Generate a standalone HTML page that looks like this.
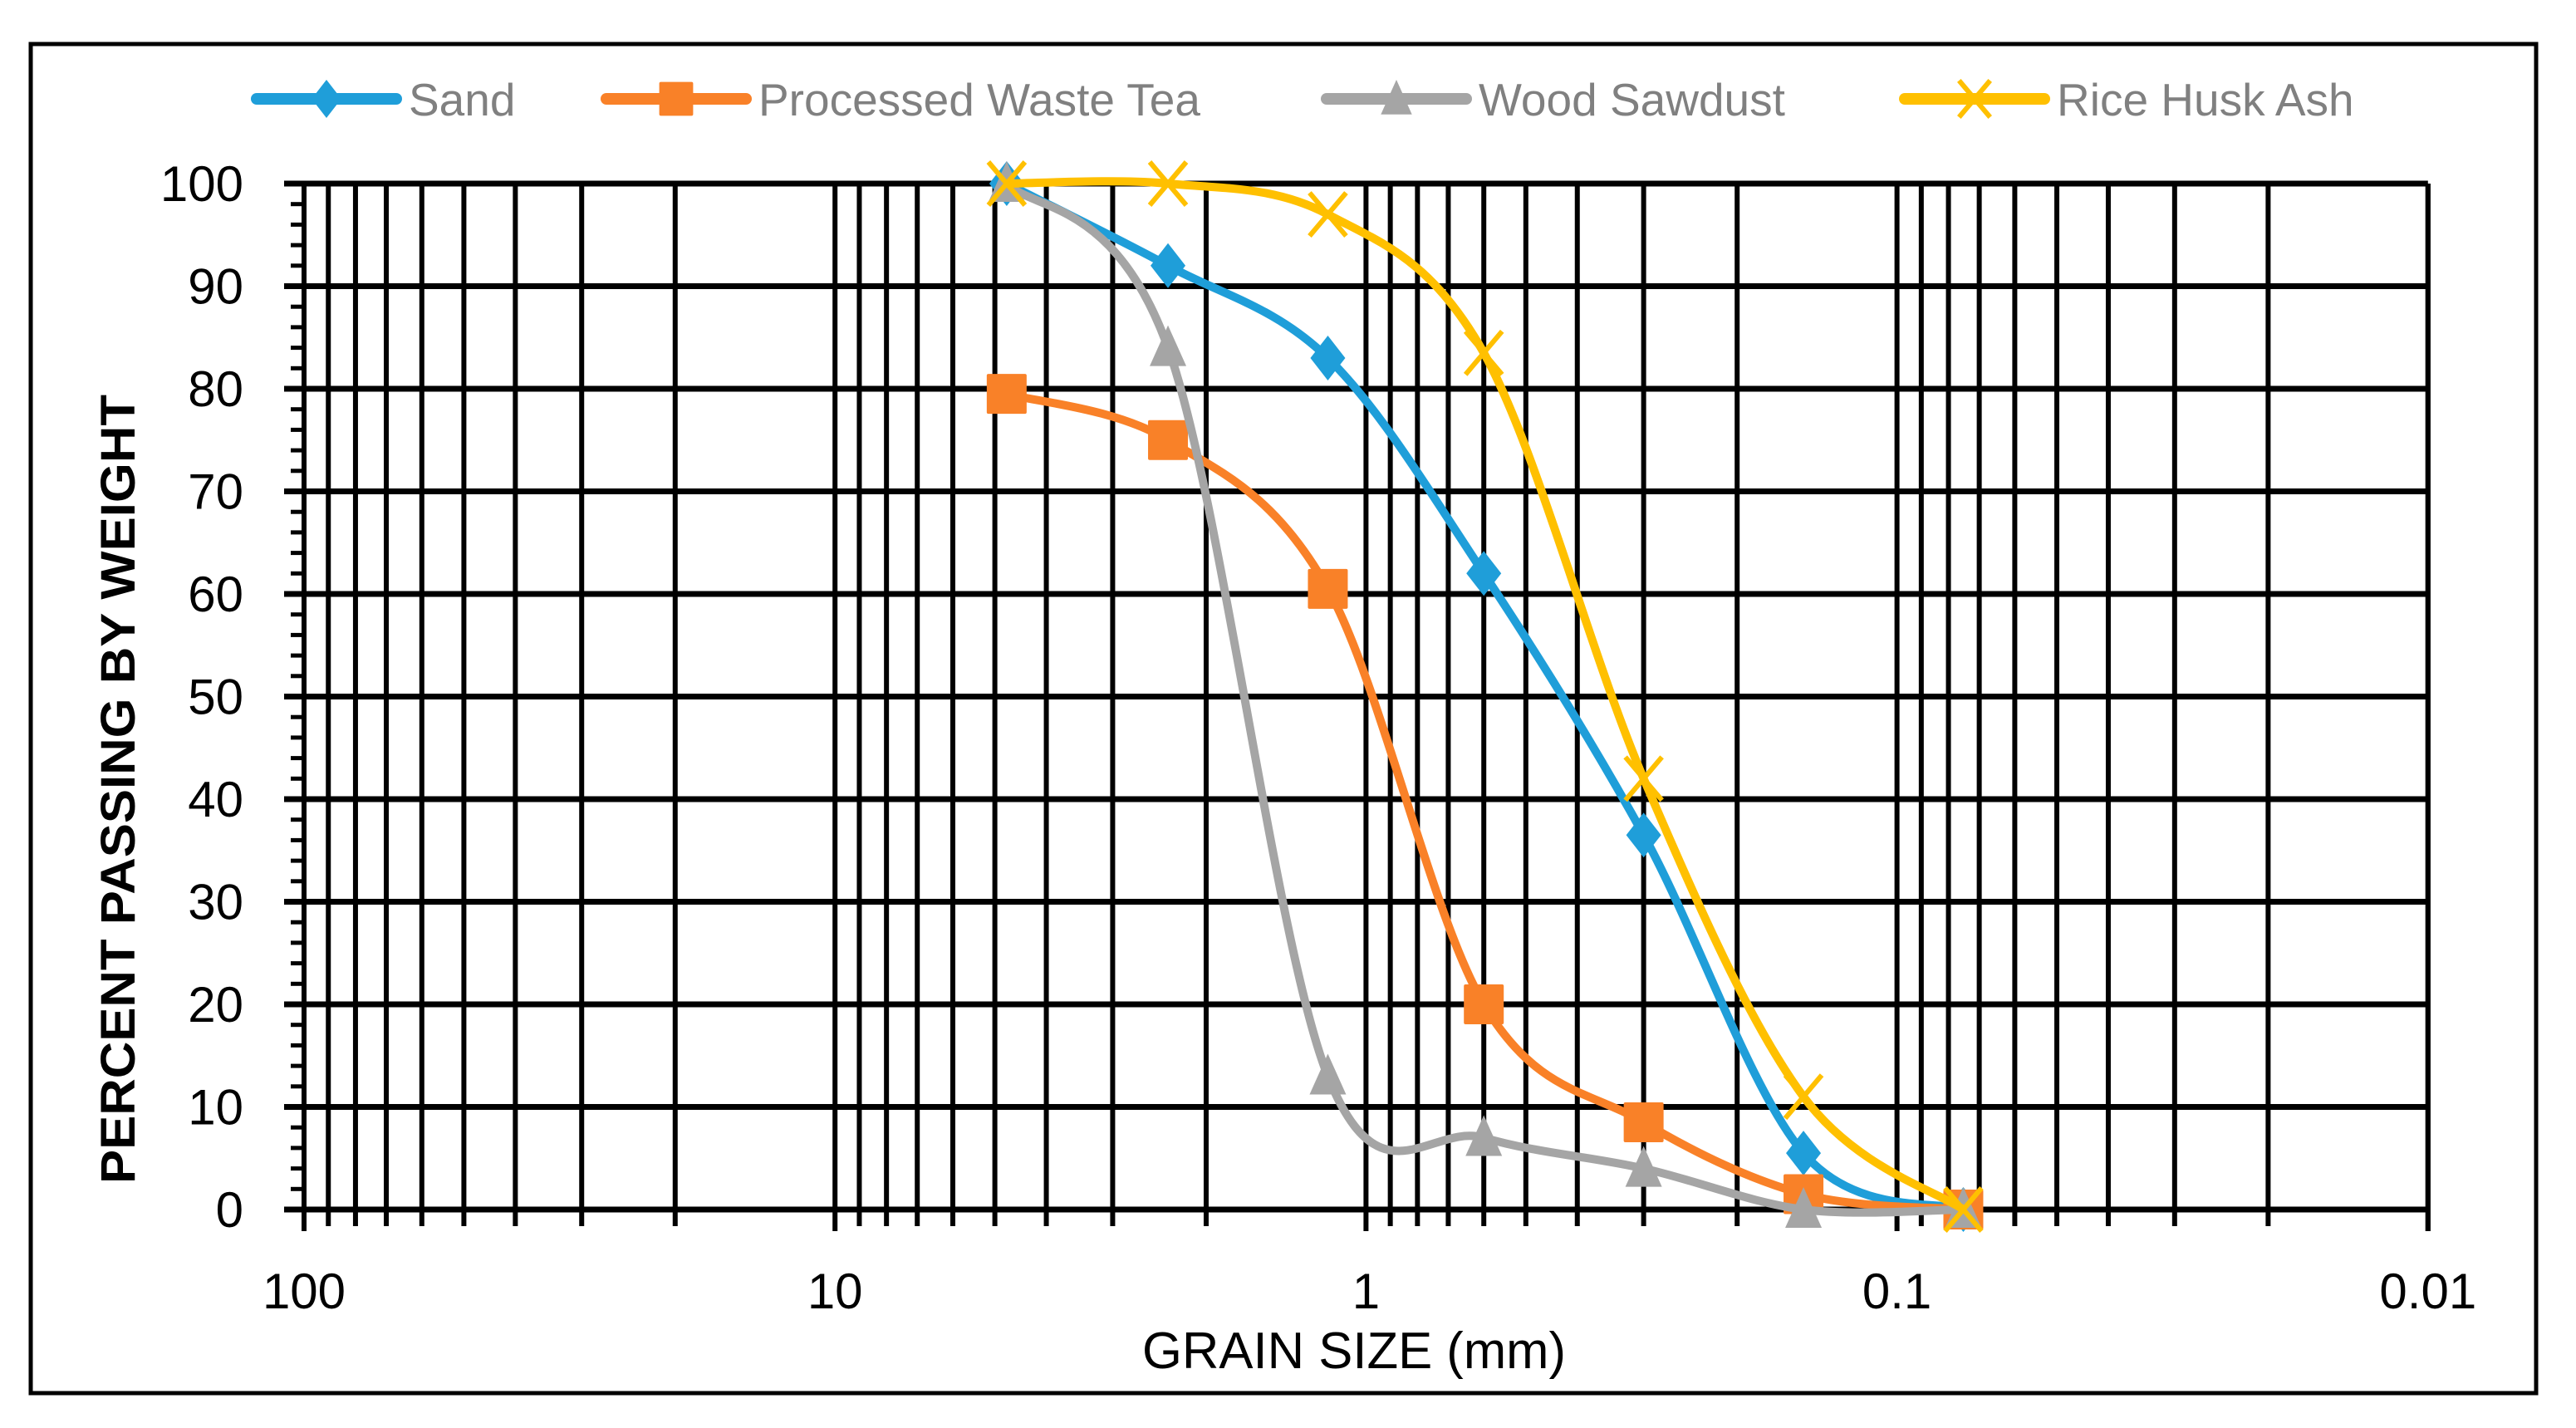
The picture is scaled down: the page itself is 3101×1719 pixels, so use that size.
<!DOCTYPE html>
<html><head><meta charset="utf-8"><style>
html,body{margin:0;padding:0;background:#fff}
svg{display:block}
text{font-family:"Liberation Sans",sans-serif}
</style></head><body>
<svg id="chart" width="3101" height="1719" viewBox="0 0 3101 1719" xmlns="http://www.w3.org/2000/svg">
<rect x="37" y="53" width="3016" height="1624" fill="#fff" stroke="#000" stroke-width="5"/>
<g id="grid"></g>
<g id="series"></g>
<g id="axes"></g>
<text transform="translate(162,950) rotate(-90)" text-anchor="middle" font-size="58" font-weight="bold" textLength="950" lengthAdjust="spacingAndGlyphs">PERCENT PASSING BY WEIGHT</text>
<text x="1630" y="1647" text-anchor="middle" font-size="62" textLength="510" lengthAdjust="spacingAndGlyphs">GRAIN SIZE (mm)</text>
<g id="legend"></g>
</svg>
<script>
const sieveSizes = [4.75, 2.36, 1.18, 0.6, 0.3, 0.15, 0.075];
const sandValues = [100, 92, 83, 62, 36.5, 5.5, 0];
const teaValues = [79.5, 75, 60.5, 20, 8.5, 1.5, 0];
const sawdustValues = [100, 84, 13, 7, 4, 0, 0];
const ashValues = [100, 100, 97, 83.5, 42, 11, 0];
const seriesNames = ["Sand", "Processed Waste Tea", "Wood Sawdust", "Rice Husk Ash"];
const yTicks = [0, 10, 20, 30, 40, 50, 60, 70, 80, 90, 100];
const xTickLabels = ["100", "10", "1", "0.1", "0.01"];
const xTickValues = [100, 10, 1, 0.1, 0.01];

const NS = "http://www.w3.org/2000/svg";
const X0 = 366, DEC = 639.2, Y0 = 1456, YU = 12.35;
const xs = v => X0 + DEC * (2 - Math.log10(v));
const ys = v => Y0 - YU * v;
function mk(tag, attrs, parent) { const e = document.createElementNS(NS, tag); for (const k in attrs) e.setAttribute(k, attrs[k]); parent.appendChild(e); return e; }
const grid = document.getElementById('grid'), axes = document.getElementById('axes');
const xL = xs(100), xR = xs(0.01);
const decs = [100, 10, 1, 0.1];
decs.forEach(d => {
  for (let m = 9; m >= 1; m--) {
    const v = d * m / 10;
    const x = xs(v);
    const major = (m === 1);
    const l = mk('line', {x1: x, x2: x, y1: ys(100), y2: major ? 1482 : 1476, stroke: '#000', 'stroke-width': 6}, grid);
    
    
  }
});
[100, 0.01].forEach(v => {
  const l = mk('line', {x1: xs(v), x2: xs(v), y1: ys(100), y2: 1482, stroke: '#000', 'stroke-width': 6}, grid);
  
  
});
yTicks.forEach(t => {
  const l = mk('line', {x1: 342, x2: xR, y1: ys(t), y2: ys(t), stroke: '#000', 'stroke-width': 7}, grid);
  
  
  const tx = mk('text', {x: 293, y: ys(t) + 21, 'text-anchor': 'end', 'font-size': 60}, axes);
  tx.textContent = t;
  
  
});
for (let t = 2; t < 100; t += 2) {
  if (t % 10 === 0) continue;
  const l = mk('line', {x1: 350, x2: xL, y1: ys(t), y2: ys(t), stroke: '#000', 'stroke-width': 5}, grid);
  
  
}
xTickValues.forEach((v, i) => {
  const tx = mk('text', {x: xs(v), y: 1575, 'text-anchor': 'middle', 'font-size': 60}, axes);
  tx.textContent = xTickLabels[i];
  
  
});

const colors = ['#1f9ed9', '#f98128', '#a5a5a5', '#ffc000'];
const markers = ['diamond', 'square', 'triangle', 'x'];
const allValues = [sandValues, teaValues, sawdustValues, ashValues];
function smoothPath(pts) {
  let d = `M${pts[0][0]},${pts[0][1]}`;
  for (let i = 0; i < pts.length - 1; i++) {
    const p0 = pts[i - 1] || pts[i], p1 = pts[i], p2 = pts[i + 1], p3 = pts[i + 2] || p2;
    const c1 = [p1[0] + (p2[0] - p0[0]) / 6, p1[1] + (p2[1] - p0[1]) / 6];
    const c2 = [p2[0] - (p3[0] - p1[0]) / 6, p2[1] - (p3[1] - p1[1]) / 6];
    d += ` C${c1[0]},${c1[1]} ${c2[0]},${c2[1]} ${p2[0]},${p2[1]}`;
  }
  return d;
}
function marker(type, x, y, c, parent, s) {
  s = s || 1;
  let e;
  if (type === 'diamond') e = mk('polygon', {points: `${x},${y-27*s} ${x+21*s},${y} ${x},${y+27*s} ${x-21*s},${y}`, fill: c}, parent);
  else if (type === 'square') e = mk('rect', {x: x-24*s, y: y-24*s, width: 48*s, height: 48*s, fill: c, rx: 2}, parent);
  else if (type === 'triangle') e = mk('polygon', {points: `${x},${y-27*s} ${x+22*s},${y+22*s} ${x-22*s},${y+22*s}`, fill: c}, parent);
  else { e = mk('path', {d: `M${x-22*s},${y-26*s} L${x+22*s},${y+26*s} M${x+22*s},${y-26*s} L${x-22*s},${y+26*s}`, stroke: c, 'stroke-width': 6, fill: 'none'}, parent); }
  return e;
}
const sg = document.getElementById('series');
allValues.forEach((vals, si) => {
  const g = mk('g', {}, sg);
  
  
  const pts = sieveSizes.map((s, i) => [xs(s), ys(vals[i])]);
  const p = mk('path', {d: smoothPath(pts), fill: 'none', stroke: colors[si], 'stroke-width': 10, 'stroke-linejoin': 'round'}, g);
  
  
  pts.forEach(pt => {
    const m = marker(markers[si], pt[0], pt[1], colors[si], g);
    
    
  });
});
const lg = document.getElementById('legend');
const legX = [309, 730, 1597, 2293];
seriesNames.forEach((n, i) => {
  const g = mk('g', {}, lg);
  
  
  mk('line', {x1: legX[i], x2: legX[i] + 168, y1: 119, y2: 119, stroke: colors[i], 'stroke-width': 14, 'stroke-linecap': 'round'}, g);
  marker(markers[i], legX[i] + 84, 119, colors[i], g, 0.85);
  const t = mk('text', {x: legX[i] + 183, y: 139, 'font-size': 55, fill: '#808080'}, g);
  t.textContent = n;
});
</script>
</body></html>
